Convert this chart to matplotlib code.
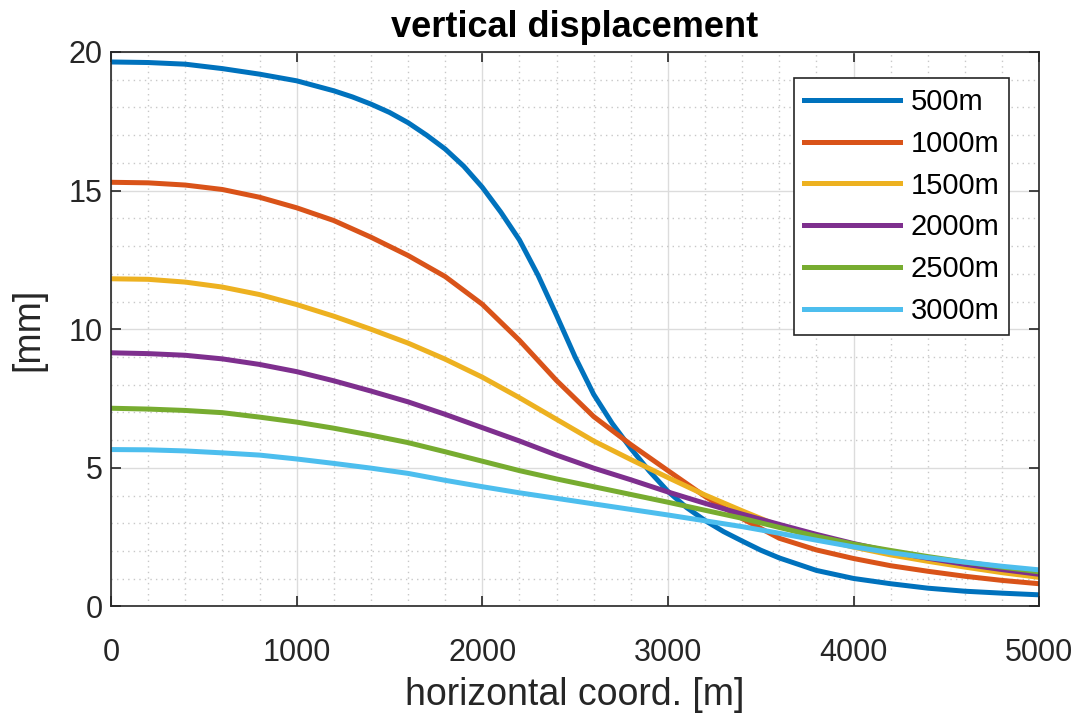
import numpy as np
import matplotlib
matplotlib.use("Agg")
import matplotlib.pyplot as plt
from matplotlib.ticker import MultipleLocator

plt.rcParams["font.family"] = ["Liberation Sans", "DejaVu Sans"]

# horizontal coordinate [m], 200 m steps
x_coarse = [0, 200, 400, 600, 800, 1000, 1200, 1400, 1600, 1800, 2000, 2200, 2400,
            2600, 2800, 3000, 3200, 3400, 3600, 3800, 4000, 4200, 4400, 4600, 4800, 5000]
# finer steps for the steep 500m curve
x_fine = [0, 200, 400, 600, 800, 1000, 1200, 1300, 1400, 1500, 1600, 1700, 1800, 1900,
          2000, 2100, 2200, 2300, 2400, 2500, 2600, 2700, 2800, 2900, 3000, 3100, 3200,
          3300, 3400, 3500, 3600, 3800, 4000, 4200, 4400, 4600, 4800, 5000]

d500 = [19.64, 19.62, 19.56, 19.40, 19.20, 18.96, 18.60, 18.38, 18.12, 17.82, 17.45, 17.00,
        16.50, 15.88, 15.12, 14.22, 13.22, 11.95, 10.50, 9.00, 7.65, 6.60, 5.70, 4.88,
        4.15, 3.57, 3.10, 2.70, 2.36, 2.03, 1.75, 1.30, 1.01, 0.82, 0.66, 0.55, 0.48, 0.42]
d1000 = [15.30, 15.28, 15.20, 15.04, 14.76, 14.38, 13.92, 13.32, 12.66, 11.90, 10.90, 9.60,
         8.15, 6.85, 5.84, 4.90, 3.97, 3.17, 2.46, 2.04, 1.73, 1.47, 1.27, 1.09, 0.94, 0.82]
d1500 = [11.82, 11.80, 11.70, 11.52, 11.25, 10.89, 10.47, 10.00, 9.50, 8.92, 8.27, 7.53,
         6.75, 5.97, 5.30, 4.65, 4.02, 3.45, 2.90, 2.47, 2.14, 1.86, 1.63, 1.42, 1.22, 1.05]
d2000 = [9.15, 9.12, 9.06, 8.93, 8.73, 8.47, 8.14, 7.77, 7.38, 6.93, 6.45, 5.97,
         5.46, 4.99, 4.57, 4.13, 3.72, 3.33, 2.96, 2.60, 2.27, 1.98, 1.74, 1.52, 1.33, 1.16]
d2500 = [7.15, 7.12, 7.07, 6.99, 6.83, 6.65, 6.43, 6.18, 5.91, 5.58, 5.24, 4.90,
         4.60, 4.32, 4.04, 3.76, 3.47, 3.18, 2.85, 2.53, 2.25, 2.02, 1.80, 1.60, 1.42, 1.25]
d3000 = [5.66, 5.65, 5.61, 5.54, 5.46, 5.32, 5.16, 4.99, 4.80, 4.55, 4.32, 4.10,
         3.90, 3.70, 3.50, 3.30, 3.09, 2.88, 2.64, 2.39, 2.15, 1.94, 1.76, 1.60, 1.45, 1.32]

labels = ["500m", "1000m", "1500m", "2000m", "2500m", "3000m"]
colors = ["#0072BD", "#D95319", "#EDB120", "#7E2F8E", "#77AC30", "#4DBEEE"]

fig = plt.figure(figsize=(10.78, 7.14), dpi=100)
ax = fig.add_axes([0.103, 0.1506, 0.861, 0.7766])

series = [(x_fine, d500), (x_coarse, d1000), (x_coarse, d1500),
          (x_coarse, d2000), (x_coarse, d2500), (x_coarse, d3000)]
for (xs, ys), lab, col in zip(series, labels, colors):
    ax.plot(xs, ys, color=col, lw=3.6, label=lab, solid_joinstyle="round")

ax.set_xlim(0, 5000)
ax.set_ylim(0, 20)
ax.xaxis.set_major_locator(MultipleLocator(1000))
ax.xaxis.set_minor_locator(MultipleLocator(200))
ax.yaxis.set_major_locator(MultipleLocator(5))
ax.yaxis.set_minor_locator(MultipleLocator(1))

dark = "#262626"
ax.grid(True, which="major", color="#dcdcdc", lw=1.0)
ax.grid(True, which="minor", color="#c8c8c8", lw=1.0, ls=(0, (1, 3)))
ax.set_axisbelow(True)
ax.tick_params(which="both", direction="in", top=True, right=True, colors=dark,
               labelsize=22)
ax.tick_params(which="major", length=7, width=1.2)
ax.tick_params(which="minor", length=0)
ax.tick_params(axis="x", which="major", pad=23)
ax.tick_params(axis="y", which="major", pad=6)
for s in ax.spines.values():
    s.set_color(dark)
    s.set_linewidth(1.2)

ax.set_title("vertical displacement", fontsize=26, fontweight="bold", pad=11)
ax.set_xlabel("horizontal coord. [m]", fontsize=27, color=dark, labelpad=6)
ax.set_ylabel("[mm]", fontsize=27, color=dark, labelpad=16)

leg = ax.legend(loc="upper right", bbox_to_anchor=(0.968, 0.953), fontsize=21,
                handlelength=3.3, handletextpad=0.35, labelspacing=0.47,
                borderpad=0.35, borderaxespad=0, fancybox=False, framealpha=1,
                edgecolor=dark)
leg.get_frame().set_linewidth(1.2)

fig.savefig("out.png", dpi=100)
